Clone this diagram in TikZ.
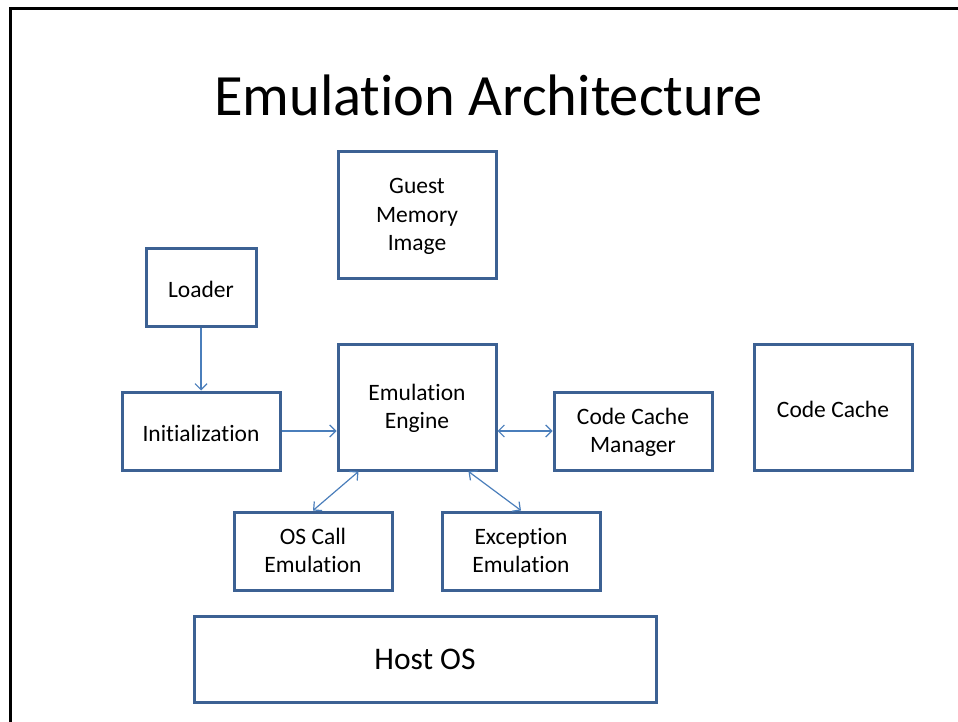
\documentclass[tikz,border=0pt]{standalone}
\usepackage{fontspec}
\setmainfont{Carlito}[Ligatures=NoCommon]
\usetikzlibrary{arrows.meta}
\definecolor{boxline}{HTML}{3C6193}
\definecolor{linkline}{HTML}{4A7EBB}
\begin{document}
\begin{tikzpicture}[x=1pt,y=-1pt,
  block/.style={draw=boxline, line width=3pt, rectangle, inner sep=0pt,
    align=center, text=black, font=\fontsize{23.5}{28.5}\selectfont,
    text depth=0.12em, execute at begin node={\rule{0pt}{0.95em}}},
  small/.style={block, minimum width=158pt, minimum height=78pt},
  tall/.style={block, minimum width=158pt, minimum height=126pt},
  wide/.style={draw=boxline, line width=3pt, rectangle, inner sep=0pt,
    text=black, font=\fontsize{31.5}{36}\selectfont,
    minimum width=462pt, minimum height=86pt},
  link/.style={draw=linkline, line width=1.2pt},
  barb/.tip={Straight Barb[length=6pt,width=12pt,line width=1.2pt]}]
\useasboundingbox (0,0) rectangle (958,722);
% slide frame
\draw[line width=2.4pt, black] (10.5,722) -- (10.5,8.5) -- (958,8.5);
% title
\node[font=\fontsize{58.5}{62}\selectfont, anchor=base] (title) at (488.5,116) {Emulation Architecture};
% components
\node[tall] (guest) at (417,215) {Guest\\Memory\\Image};
\node[block, minimum width=110pt, minimum height=78pt] (loader) at (201,287) {Loader};
\node[small] (init) at (201,431) {Initialization};
\node[tall] (engine) at (417,407) {Emulation\\Engine};
\node[small] (ccm) at (633,431) {Code Cache\\Manager};
\node[tall] (cc) at (833,407) {Code Cache};
\node[small] (oscall) at (313,551) {OS Call\\Emulation};
\node[small] (exc) at (521,551) {Exception\\Emulation};
\node[wide] (host) at (425,659) {Host OS};
% connectors
\draw[link, -{barb}] (loader.south) -- (init.north);
\draw[link, -{barb}] (init.east) -- (init.east -| engine.west);
\draw[link, {barb}-{barb}] (ccm.west -| engine.east) -- (ccm.west);
\draw[link, {barb}-{barb}] ([xshift=22pt]engine.south west) -- (oscall.north);
\draw[link, {barb}-{barb}] ([xshift=-29pt]engine.south east) -- (exc.north);
\end{tikzpicture}
\end{document}
